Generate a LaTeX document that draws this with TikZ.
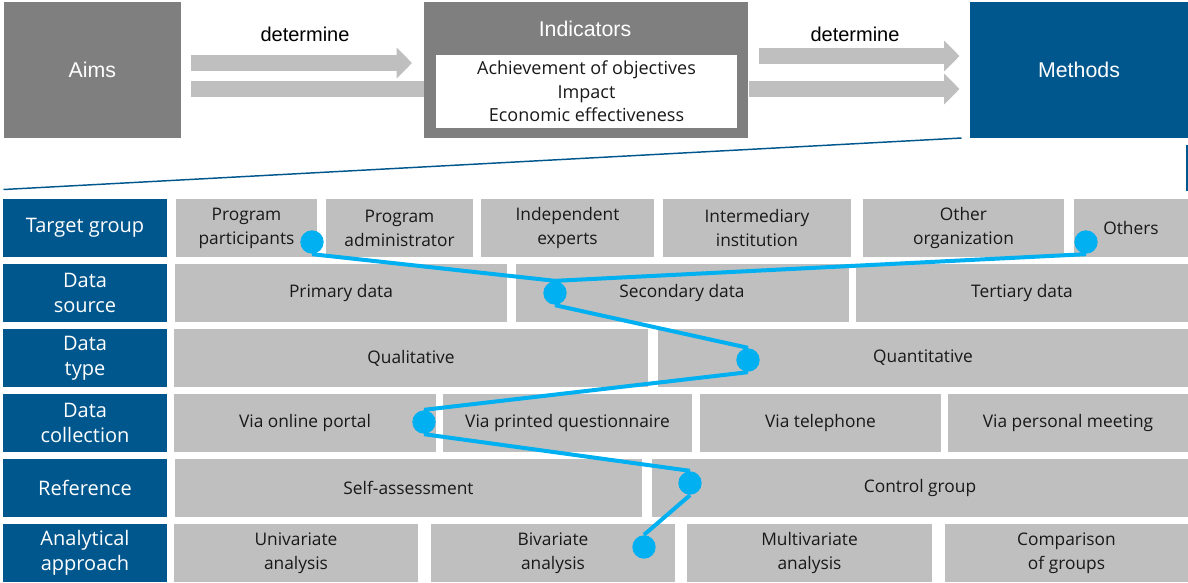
\documentclass[tikz,border=0pt]{standalone}
\usepackage{fontspec}
\setmainfont{Open Sans}
\newfontfamily\headfont{Liberation Sans}
\usetikzlibrary{arrows.meta,calc}

\definecolor{tblblue}{RGB}{0,87,141}
\definecolor{cellgray}{RGB}{191,191,191}
\definecolor{boxgray}{RGB}{127,127,127}
\definecolor{dotblue}{RGB}{0,176,240}
\definecolor{txtdark}{RGB}{25,25,25}

\tikzset{every picture/.style={line width=0.75pt}}
\tikzset{
  topbox/.style={fill=#1, minimum height=102pt, inner sep=0pt},
  hdr/.style={fill=tblblue, text=white, minimum width=123pt, minimum height=43.5pt,
    inner sep=0pt, align=center, font=\fontsize{15}{18.5}\selectfont},
  cell/.style={fill=cellgray, text=txtdark, minimum width=#1*0.75pt, minimum height=43.5pt,
    inner sep=0pt, align=center, font=\fontsize{13}{18}\selectfont},
  blockarrow/.style={draw=cellgray, line width=12pt, -{Triangle[length=11.5pt,width=22.5pt]}},
  blockbar/.style={draw=cellgray, line width=12pt},
  dot/.style={circle, fill=dotblue, minimum size=17.5pt, inner sep=0pt},
  trail/.style={draw=dotblue, line width=3pt},
  zoomline/.style={draw=tblblue, line width=1.1pt},
}

\begin{document}
\begin{tikzpicture}[x=0.75pt,y=0.75pt,yscale=-1,xscale=1]
    \useasboundingbox (0,0) rectangle (1188,582);
    %Shape: Rectangle [Aims]
    \node [topbox=boxgray, minimum width=132.75pt, text=white, font=\headfont\fontsize{16}{19}\selectfont] (aims) at (92.25,69.5) {Aims};
    %Shape: Rectangle [Indicators]
    \node [topbox=boxgray, minimum width=243pt] (indic) at (586,70) {};
    \node [text=white, font=\headfont\fontsize{16}{19}\selectfont] (indtitle) at (585,29) {Indicators};
    \node [fill=white, minimum width=225.75pt, minimum height=54.75pt, inner sep=0pt, align=center,
      text=txtdark, font=\fontsize{13.5}{17.5}\selectfont] (indlist) at (586.5,91.5)
      {Achievement of objectives\\Impact\\Economic effectiveness};
    %Shape: Rectangle [Methods]
    \node [topbox=tblblue, minimum width=163.5pt, text=white, font=\headfont\fontsize{16}{19}\selectfont] (methods) at (1079,69.5) {Methods};

    %Block arrows
    \draw [blockarrow] ($(aims.east)+(10,-6.5)$) -- ($(indic.west)+(-11.5,-7)$);
    \draw [blockbar] ($(aims.east)+(10,19.5)$) -- ($(indic.west)+(0,19)$);
    \draw [blockarrow] ($(indic.east)+(10,-14)$) -- ($(methods.west)+(-10,-13.5)$);
    \draw [blockarrow] ($(indic.east)+(0,19)$) -- ($(methods.west)+(-10,19.5)$);
    % Text Node
    \node [font=\headfont\fontsize{15}{18}\selectfont] (det1) at (305,34) {determine};
    % Text Node
    \node [font=\headfont\fontsize{15}{18}\selectfont] (det2) at (855,34) {determine};

    %Row headers
    \node [hdr] (tg) at (85,228) {Target group};
    \node [hdr] (ds) at (85,293) {Data\\source};
    \node [hdr] (dt) at (85,358) {Data\\type};
    \node [hdr] (dc) at (85,423) {Data\\collection};
    \node [hdr] (rf) at (85,488) {Reference};
    \node [hdr] (aa) at (85,553) {Analytical\\approach};

    %Zoom lines from Methods
    \draw [zoomline] ($(methods.south west)+(-8,0)$) -- ($(tg.north west)+(1,-9)$);
    \draw [zoomline] ($(methods.south east)+(-1.5,7)$) -- ($(methods.south east |- tg.north)+(-1.5,-8)$);

    %Target group
    \node [cell=141] (pp) at (246.5,228) {Program\\participants};
    \node [cell=147] (pa) at (399.5,228) {Program\\administrator};
    \node [cell=173] (ie) at (567.5,228) {Independent\\experts};
    \node [cell=188] (ii) at (757,228) {Intermediary\\institution};
    \node [cell=201] (oo) at (963.5,228) {Other\\organization};
    \node [cell=114] (ot) at (1131,228) {Others};
    %Data source
    \node [cell=332] (prim) at (341,293) {Primary data};
    \node [cell=333] (sec) at (682,293) {Secondary data};
    \node [cell=332] (ter) at (1022,293) {Tertiary data};
    %Data type
    \node [cell=474] (qual) at (411,358) {Qualitative};
    \node [cell=530] (quant) at (923,358) {Quantitative};
    %Data collection
    \node [cell=262] (online) at (305,423) {Via online portal};
    \node [cell=249] (printed) at (567.5,423) {Via printed questionnaire};
    \node [cell=241] (phone) at (820.5,423) {Via telephone};
    \node [cell=240] (meet) at (1068,423) {Via personal meeting};
    %Reference
    \node [cell=467] (self) at (408.5,488) {Self-assessment};
    \node [cell=536] (ctrl) at (920,488) {Control group};
    %Analytical approach
    \node [cell=244] (uni) at (296,553) {Univariate\\analysis};
    \node [cell=244] (biv) at (553,553) {Bivariate\\analysis};
    \node [cell=245] (multi) at (809.5,553) {Multivariate\\analysis};
    \node [cell=243] (comp) at (1066.5,553) {Comparison\\of groups};

    %Selected path
    \node [dot] (dpart) at (312,242) {};
    \node [dot] (doth) at (1086,242) {};
    \node [dot] (dsec) at (555,293) {};
    \node [dot] (dquant) at (748,360) {};
    \node [dot] (donline) at (424,422) {};
    \node [dot] (dctrl) at (690,483) {};
    \node [dot] (dbiv) at (644,547) {};
    \draw [trail] (dpart.south) -- (dsec.north);
    \draw [trail] (doth.south) -- (dsec.north);
    \draw [trail] (dsec.south) -- (dquant.north);
    \draw [trail] (dquant.south) -- (donline.north);
    \draw [trail] (donline.south) -- (dctrl.north);
    \draw [trail] (dctrl.south) -- (dbiv.north);
\end{tikzpicture}
\end{document}
